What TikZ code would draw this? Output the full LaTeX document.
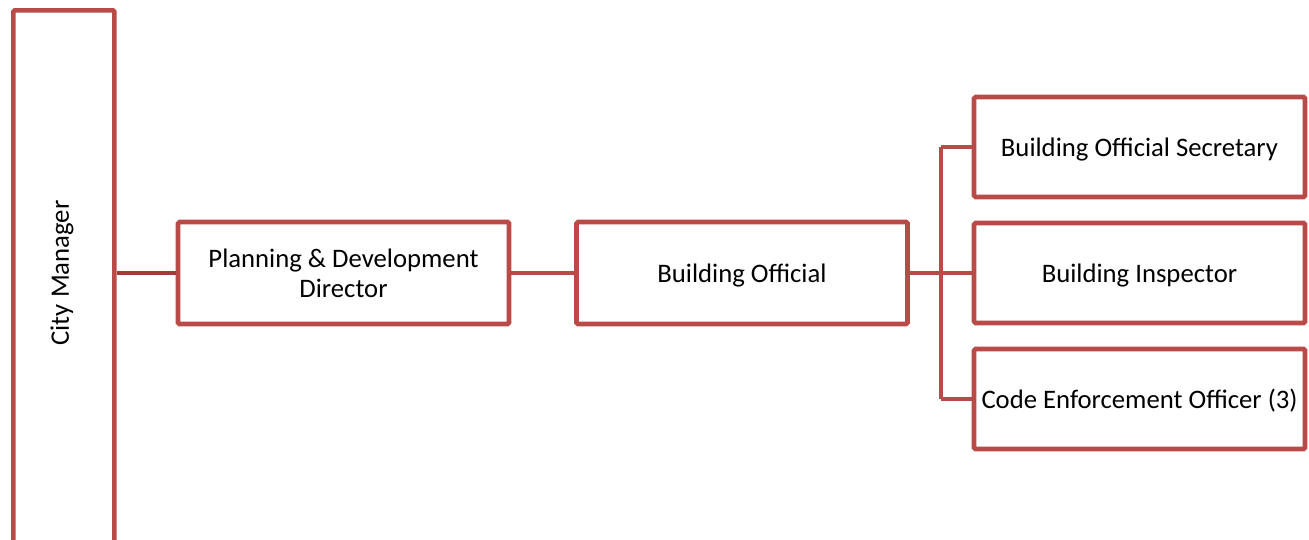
\documentclass[tikz,border=0pt]{standalone}
\usepackage{fontspec}
\setmainfont{Carlito}
\definecolor{boxred}{RGB}{184,74,72}
\definecolor{linkred}{RGB}{160,60,58}
\begin{document}
\begin{tikzpicture}[x=1pt,y=-1pt,
  orgbox/.style={draw=boxred,line width=4.6pt,rounded corners=1.5pt,fill=white,
    inner sep=0pt,font=\fontsize{26.7}{30}\selectfont,align=center,
    text depth=0pt},
  link/.style={draw=boxred,line width=4.6pt},
  toplink/.style={draw=linkred,line width=4.6pt}]
\useasboundingbox (0,0) rectangle (1309,539);
\clip (0,0) rectangle (1309,539);
% top of the chart, running off the bottom edge
\node[orgbox,minimum width=101pt,minimum height=545pt,anchor=north west] (cm) at (11,8) {};
\node[rotate=90,font=\fontsize{26.7}{30}\selectfont] (cmlabel) at (62,273) {City Manager};
% second and third levels
\node[orgbox,minimum width=331pt,minimum height=102pt] (pd) at (343.5,273)
  {Planning \& Development\\Director};
\node[orgbox,minimum width=331pt,minimum height=102pt] (bo) at (742,273) {Building Official};
% staff reporting to the building official
\node[orgbox,minimum width=331pt,minimum height=100pt] (sec) at (1139.5,147) {Building Official Secretary};
\node[orgbox,minimum width=331pt,minimum height=100pt] (ins) at (1139.5,273) {Building Inspector};
\node[orgbox,minimum width=331pt,minimum height=100pt] (ceo) at (1139.5,399) {Code Enforcement Officer (3)};
% connectors
\draw[toplink] (cm.east |- pd.west) -- (pd.west);
\draw[link] (pd.east) -- (bo.east -| bo.west);
\coordinate (bus) at (941,273);
\draw[link] (bo.east) -- (bus);
\draw[link] (bus |- sec.west) -- (bus |- ceo.west);
\draw[link] (bus |- sec.west) -- (sec.west);
\draw[link] (bus) -- (ins.west);
\draw[link] (bus |- ceo.west) -- (ceo.west);
\end{tikzpicture}
\end{document}
